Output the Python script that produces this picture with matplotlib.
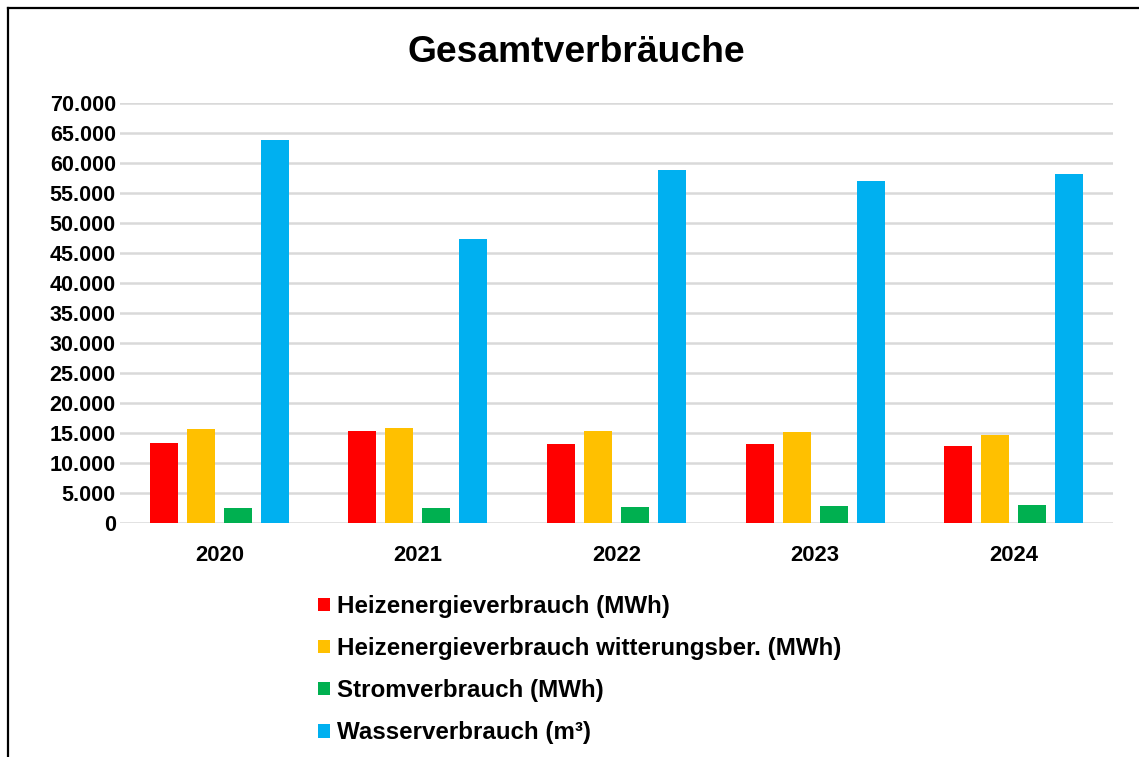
import matplotlib.pyplot as plt
import numpy as np
from matplotlib.lines import Line2D
from matplotlib.ticker import FuncFormatter

plt.rcParams['font.family'] = ['Liberation Sans', 'DejaVu Sans']

years = ['2020', '2021', '2022', '2023', '2024']
heizenergie = [13400, 15300, 13200, 13200, 12800]
heizenergie_wb = [15700, 15900, 15300, 15100, 14600]
strom = [2450, 2450, 2650, 2900, 3050]
wasser = [63800, 47300, 58850, 56950, 58200]

series = [
    ('Heizenergieverbrauch (MWh)', heizenergie, '#FF0000'),
    ('Heizenergieverbrauch witterungsber. (MWh)', heizenergie_wb, '#FFC000'),
    ('Stromverbrauch (MWh)', strom, '#00B050'),
    ('Wasserverbrauch (m³)', wasser, '#00B0F0'),
]

W, H = 1139, 757
fig = plt.figure(figsize=(W / 100, H / 100), dpi=100)
ax = fig.add_axes([120 / W, 1 - 523 / H, (1113 - 120) / W, (523 - 103) / H])

x = np.arange(len(years))
width = 0.141
step = 0.186
for i, (label, vals, color) in enumerate(series):
    ax.bar(x + (i - 1.5) * step, vals, width, color=color, label=label, zorder=3)

ax.set_xlim(-0.5, len(years) - 0.5)
ax.set_ylim(0, 70000)
ax.set_yticks(np.arange(0, 70001, 5000))
ax.yaxis.set_major_formatter(FuncFormatter(lambda v, p: f"{int(v):,}".replace(",", ".")))
ax.set_xticks(x)
ax.set_xticklabels(years)
ax.grid(axis='y', color='#d9d9d9', linewidth=1.8, zorder=0)
for s in ax.spines.values():
    s.set_visible(False)
ax.tick_params(axis='y', length=0, pad=3, labelsize=15.5)
ax.tick_params(axis='x', length=0, pad=16, labelsize=15.8)
for lbl in ax.get_xticklabels() + ax.get_yticklabels():
    lbl.set_fontweight('bold')

fig.text(576 / W, 1 - 52 / H, 'Gesamtverbräuche', ha='center', va='center',
         fontsize=26.8, fontweight='bold')

fig.legend(loc='upper left', bbox_to_anchor=(318 / W, 1 - 595 / H), frameon=False,
           prop={'weight': 'bold', 'size': 17.4}, handlelength=0.5, handleheight=0.5,
           handletextpad=0.3, labelspacing=0.79, borderpad=0, borderaxespad=0)

# frame lines: left and top only
top = 1 - 8 / H
left = 8 / W
fig.lines.append(Line2D([left, left], [0, top], transform=fig.transFigure,
                        color='black', linewidth=1.6, solid_capstyle='projecting'))
fig.lines.append(Line2D([left, 1], [top, top], transform=fig.transFigure,
                        color='black', linewidth=1.6, solid_capstyle='projecting'))

fig.savefig('out.png', dpi=100)
